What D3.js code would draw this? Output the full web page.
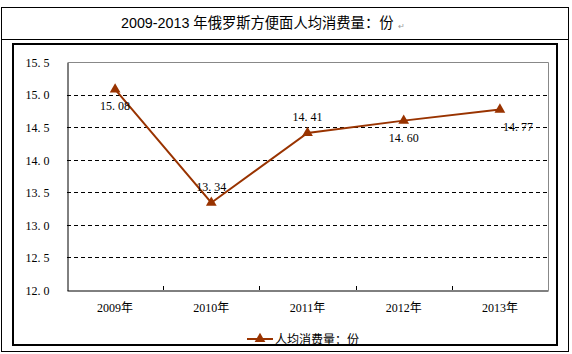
<!DOCTYPE html>
<html>
<head>
<meta charset="utf-8">
<script src="https://cdn.jsdelivr.net/npm/d3@7"></script>
<style>
  body { margin: 0; background: #fff; }
  svg text { font-family: "Liberation Serif", "Noto Sans CJK SC", serif; }
</style>
</head>
<body>
<script>
// data
var years = ["2009年", "2010年", "2011年", "2012年", "2013年"];
var values = [15.08, 13.34, 14.41, 14.60, 14.77];
var yTicks = [12.0, 12.5, 13.0, 13.5, 14.0, 14.5, 15.0, 15.5];
var labelPos = ["below", "above", "above", "below", "belowright"];
var title = "2009-2013 年俄罗斯方便面人均消费量：份";
var seriesName = "人均消费量：份";

var COLOR = "#993300";
var W = 572, H = 354;
var PLOT = {left: 67, right: 548, top: 62, bottom: 290};

var svg = d3.select("body").append("svg")
    .attr("width", W)
    .attr("height", H);

// outer frame + title row
svg.append("rect").attr("x", 1.5).attr("y", 7.5).attr("width", 567).attr("height", 344)
    .attr("fill", "none").attr("stroke", "#000").attr("stroke-width", 1);
svg.append("line").attr("x1", 1.5).attr("x2", 568.5).attr("y1", 39.5).attr("y2", 39.5)
    .attr("stroke", "#000");

svg.append("text")
    .attr("x", 121).attr("y", 28)
    .style("font-family", "'Liberation Sans', 'Noto Sans CJK SC', sans-serif")
    .style("font-size", "14.3px")
    .text(title);
svg.append("text")
    .attr("x", 398).attr("y", 29)
    .style("font-size", "8px").attr("fill", "#999")
    .text("↵");

// chart frame
svg.append("rect").attr("x", 13).attr("y", 44).attr("width", 544).attr("height", 301)
    .attr("fill", "none").attr("stroke", "#000").attr("stroke-width", 2);

// scales
var x = d3.scaleBand().domain(years).range([PLOT.left, PLOT.right]);
var y = d3.scaleLinear().domain([12, 15.5]).range([PLOT.bottom, PLOT.top]);

// grid
svg.append("g").selectAll("line")
    .data(yTicks.filter(function (d) { return d > 12 && d < 15.5; }))
    .join("line")
    .attr("x1", PLOT.left).attr("x2", PLOT.right)
    .attr("y1", function (d) { return Math.round(y(d)) + 0.5; })
    .attr("y2", function (d) { return Math.round(y(d)) + 0.5; })
    .attr("stroke", "#000")
    .attr("stroke-dasharray", "4,3");

// plot border: top/right grey
svg.append("path")
    .attr("d", "M" + (PLOT.left + 0.5) + "," + (PLOT.top + 0.5) + "H" + (PLOT.right + 0.5) + "V" + (PLOT.bottom + 0.5))
    .attr("fill", "none").attr("stroke", "#888");

// y axis
var yAxis = svg.append("g")
    .attr("transform", "translate(" + (PLOT.left + 0.5) + ",0.5)")
    .call(d3.axisLeft(y).tickValues(yTicks).tickSize(0).tickPadding(16)
        .tickFormat(function (d) { return d3.format(".1f")(d).replace(".", ". "); }));
yAxis.select(".domain").attr("stroke", "#000");
yAxis.selectAll("text").style("font-size", "12px").attr("fill", "#000")
    .attr("x", -30).attr("text-anchor", "middle");

// x axis
var xAxis = svg.append("g")
    .attr("transform", "translate(0," + (PLOT.bottom + 0.5) + ")")
    .call(d3.axisBottom(x).tickSize(0).tickPadding(13));
xAxis.select(".domain").attr("stroke", "#000");
xAxis.selectAll("text").style("font-size", "12px").attr("fill", "#000");
// tick marks between categories
svg.append("g").selectAll("line")
    .data(years.slice(1))
    .join("line")
    .attr("x1", function (d) { return Math.round(x(d)) + 0.5; })
    .attr("x2", function (d) { return Math.round(x(d)) + 0.5; })
    .attr("y1", PLOT.bottom - 4).attr("y2", PLOT.bottom)
    .attr("stroke", "#000");

// line
var pts = years.map(function (d, i) { return {x: x(d) + x.bandwidth() / 2, y: y(values[i]), v: values[i], pos: labelPos[i]}; });
svg.append("path")
    .datum(pts)
    .attr("fill", "none")
    .attr("stroke", COLOR)
    .attr("stroke-width", 2)
    .attr("d", d3.line().x(function (d) { return d.x; }).y(function (d) { return d.y; }));

var tri = d3.symbol().type(d3.symbolTriangle).size(50);
svg.append("g").selectAll("path")
    .data(pts)
    .join("path")
    .attr("transform", function (d) { return "translate(" + d.x + "," + d.y + ")"; })
    .attr("d", tri)
    .attr("fill", COLOR);

// data labels
svg.append("g").selectAll("text")
    .data(pts)
    .join("text")
    .attr("x", function (d) { return d.pos === "belowright" ? d.x + 18 : d.x; })
    .attr("y", function (d) { return d.pos === "above" ? d.y - 12 : d.y + 21; })
    .attr("text-anchor", "middle")
    .style("font-size", "12px")
    .attr("fill", "#000")
    .text(function (d) { return d3.format(".2f")(d.v).replace(".", ". "); });

// legend
var lg = svg.append("g").attr("transform", "translate(247,339)");
lg.append("line").attr("x1", 0).attr("x2", 26).attr("y1", 0).attr("y2", 0)
    .attr("stroke", COLOR).attr("stroke-width", 2);
lg.append("path").attr("transform", "translate(13,0)").attr("d", tri).attr("fill", COLOR);
lg.append("text").attr("x", 28).attr("y", 5)
    .style("font-size", "12px")
    .style("font-family", "'Noto Sans CJK SC', sans-serif")
    .text(seriesName);
</script>
</body>
</html>
